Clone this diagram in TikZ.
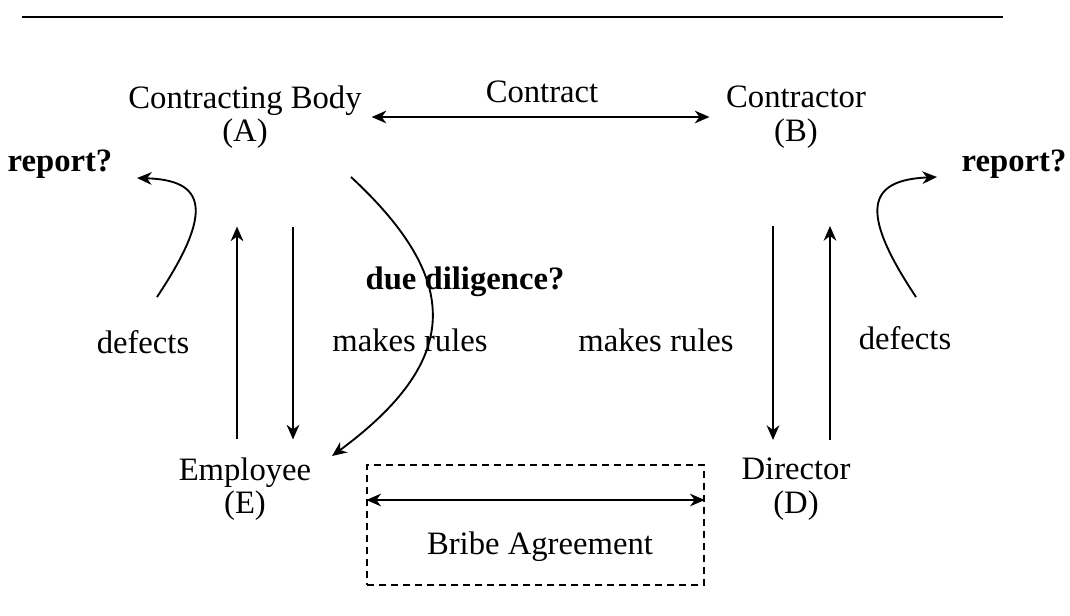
\documentclass[tikz,border=0pt]{standalone}
\usepackage{fontspec}
\setmainfont{Liberation Serif}
\usetikzlibrary{arrows.meta}

\tikzset{
  actor/.style={align=center, font=\fontsize{24.5}{25}\selectfont},
  lbl/.style={font=\fontsize{24.5}{25}\selectfont},
  blbl/.style={font=\fontsize{24.5}{25}\selectfont\bfseries},
  arr/.style={line width=1.4pt, -{Stealth[length=11pt,width=9.5pt,inset=3.5pt]}},
  darr/.style={line width=1.4pt, {Stealth[length=11pt,width=9.5pt,inset=3.5pt]}-{Stealth[length=11pt,width=9.5pt,inset=3.5pt]}},
}

\begin{document}
\begin{tikzpicture}[x=0.75pt, y=-0.75pt]
    \useasboundingbox (0,0) rectangle (1070,615);

    % Rule at the top
    \draw[line width=2pt] (22,17) -- (1003,17);

    % Parties
    \node[actor] (A) at (245,117) {Contracting Body\\(A)};
    \node[actor] (B) at (796,117) {Contractor\\(B)};
    \node[actor] (E) at (245,489) {Employee\\(E)};
    \node[actor] (D) at (796,489) {Director\\(D)};

    % Labels
    \node[lbl] (contract) at (542,92) {Contract};
    \node[blbl] (repL) at (60,164) {report?};
    \node[blbl] (repR) at (1014,164) {report?};
    \node[lbl] (defL) at (143,342) {defects};
    \node[lbl] (defR) at (905,338) {defects};
    \node[lbl] (rulesA) at (410,340) {makes rules};
    \node[lbl] (rulesB) at (656,340) {makes rules};
    \node[blbl] (dd) at (465,282) {due diligence?};

    % Bribe agreement
    \node[draw, line width=1pt, dash pattern=on 5.5pt off 3.5pt,
          minimum width=252.75pt, minimum height=90pt] (deal) at (535.5,525) {};
    \node[lbl] (bribe) at (540,547) {Bribe Agreement};

    % Free ends of the curved arrows
    \coordinate (cL0) at (157,297);
    \coordinate (cL1) at (137,178);
    \coordinate (cR0) at (916,297);
    \coordinate (cR1) at (937,177);
    \coordinate (dd0) at (351,177);
    \coordinate (dd1) at (332,456);

    % Arrows
    \draw[darr, shorten <=4pt, shorten >=9pt] (A.east) -- (B.west);
    \draw[arr, shorten <=10pt, shorten >=55pt] ([xshift=-6pt]E.north) -- ([xshift=-6pt]A.south);
    \draw[arr, shorten <=55pt, shorten >=10pt] ([xshift=36pt]A.south) -- ([xshift=36pt]E.north);
    \draw[arr, shorten <=55pt, shorten >=10pt] ([xshift=-17.25pt]B.south) -- ([xshift=-17.25pt]D.north);
    \draw[arr, shorten <=10pt, shorten >=55pt] ([xshift=25.5pt]D.north) -- ([xshift=25.5pt]B.south);
    \draw[darr] ([yshift=18.75pt]deal.west) -- ([yshift=18.75pt]deal.east);

    \draw[arr] (cL0) .. controls (215,210) and (205,180) .. (cL1);
    \draw[arr] (cR0) .. controls (858,210) and (868,180) .. (cR1);
    \draw[arr] (dd0) .. controls (462,280) and (462,360) .. (dd1);
\end{tikzpicture}
\end{document}
